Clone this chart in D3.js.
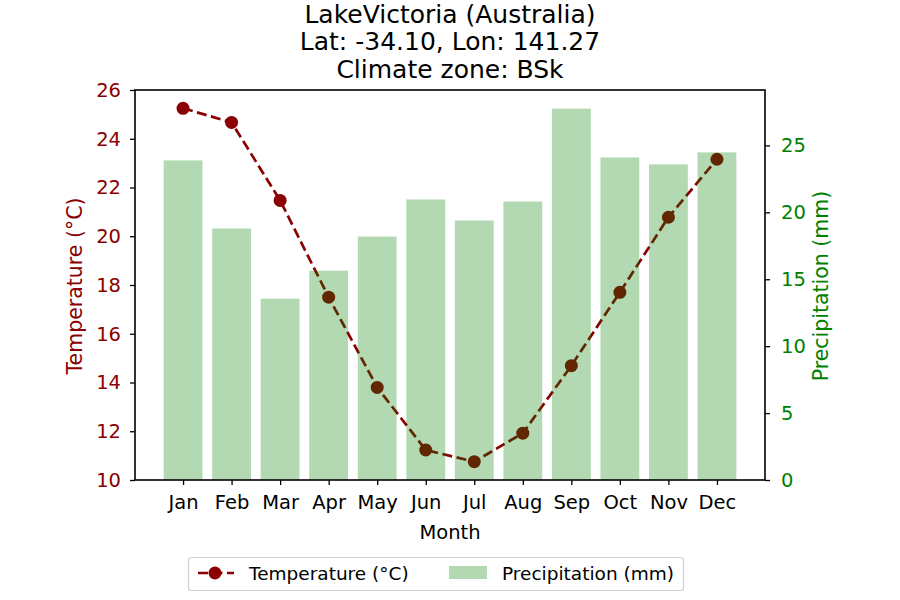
<!DOCTYPE html>
<html>
<head>
<meta charset="utf-8">
<script src="https://cdn.jsdelivr.net/npm/d3@7"></script>
<style>
  html, body { margin: 0; padding: 0; background: #fff; }
  svg text { font-family: "DejaVu Sans", sans-serif; }
</style>
</head>
<body>
<svg id="chart" width="900" height="600"></svg>
<script>
const months = ["Jan","Feb","Mar","Apr","May","Jun","Jul","Aug","Sep","Oct","Nov","Dec"];
const temperature = [25.25, 24.67, 21.47, 17.5, 13.8, 11.23, 10.75, 11.92, 14.69, 17.7, 20.78, 23.16];
const precipitation = [23.88, 18.79, 13.55, 15.64, 18.19, 20.96, 19.39, 20.81, 27.75, 24.10, 23.58, 24.48];
const tempTicks = [10, 12, 14, 16, 18, 20, 22, 24, 26];
const precipTicks = [0, 5, 10, 15, 20, 25];
const titleLines = ["LakeVictoria (Australia)", "Lat: -34.10, Lon: 141.27", "Climate zone: BSk"];

const svg = d3.select("#chart");
const m = {left: 135, right: 765, top: 90, bottom: 480};
const tempColor = "#8b0000", precipColor = "#008000";

const x = d3.scaleLinear().domain([-0.99, 11.99]).range([m.left, m.right]);
const band = x(0.4) - x(-0.4);
const yT = d3.scaleLinear().domain([10, 26]).range([m.bottom, m.top]);
const yP = d3.scaleLinear().domain([0, 29.14]).range([m.bottom, m.top]);

// temperature line (drawn first, bars overlay it)
const line = d3.line().x((d, i) => x(i)).y(d => yT(d));
svg.append("path").datum(temperature)
  .attr("d", line).attr("fill", "none").attr("stroke", tempColor)
  .attr("stroke-width", 2.7).attr("stroke-dasharray", "10,4.5");
svg.append("g").selectAll("circle").data(temperature).join("circle")
  .attr("cx", (d, i) => x(i)).attr("cy", d => yT(d)).attr("r", 6.5)
  .attr("fill", tempColor);

// precipitation bars
svg.append("g").selectAll("rect").data(precipitation).join("rect")
  .attr("x", (d, i) => x(i) - band / 2).attr("width", band)
  .attr("y", d => yP(d)).attr("height", d => yP(0) - yP(d))
  .attr("fill", precipColor).attr("fill-opacity", 0.3);

// axes
const fs = 19.5;
const axL = svg.append("g").attr("transform", `translate(${m.left},0)`)
  .call(d3.axisLeft(yT).tickValues(tempTicks).tickSize(5).tickPadding(9).tickFormat(d3.format("d")));
const axR = svg.append("g").attr("transform", `translate(${m.right},0)`)
  .call(d3.axisRight(yP).tickValues(precipTicks).tickSize(5).tickPadding(11).tickFormat(d3.format("d")));
const axB = svg.append("g").attr("transform", `translate(0,${m.bottom})`)
  .call(d3.axisBottom(x).tickValues(d3.range(12)).tickSize(5).tickPadding(10).tickFormat(i => months[i]));
[axL, axR, axB].forEach(a => {
  a.select(".domain").remove();
  a.selectAll("line").attr("stroke", "#000").attr("stroke-width", 1.3);
  a.selectAll("text").style("font-size", fs + "px").attr("font-family", "DejaVu Sans");
});
axL.selectAll("text").attr("fill", tempColor);
axR.selectAll("text").attr("fill", precipColor);
axB.selectAll("text").attr("fill", "#000");

// frame
svg.append("rect").attr("x", m.left).attr("y", m.top)
  .attr("width", m.right - m.left).attr("height", m.bottom - m.top)
  .attr("fill", "none").attr("stroke", "#000").attr("stroke-width", 1.6);

// axis labels
svg.append("text").attr("transform", "translate(75,286) rotate(-90)")
  .attr("text-anchor", "middle").attr("dominant-baseline", "central")
  .attr("fill", tempColor).style("font-size", "20.5px").text("Temperature (°C)");
svg.append("text").attr("transform", "translate(821,286) rotate(-90)")
  .attr("text-anchor", "middle").attr("dominant-baseline", "central")
  .attr("fill", precipColor).style("font-size", "20.5px").text("Precipitation (mm)");
svg.append("text").attr("x", 450).attr("y", 532)
  .attr("text-anchor", "middle").attr("dominant-baseline", "central")
  .attr("fill", "#000").style("font-size", fs + "px").text("Month");

// title
svg.append("g").selectAll("text").data(titleLines).join("text")
  .attr("x", 450).attr("y", (d, i) => 14 + i * 27.5)
  .attr("text-anchor", "middle").attr("dominant-baseline", "central")
  .attr("fill", "#000").style("font-size", "25px").text(d => d);

// legend
const lg = svg.append("g");
lg.append("rect").attr("x", 188.5).attr("y", 557.5).attr("width", 495).attr("height", 33)
  .attr("rx", 3).attr("fill", "#fff").attr("stroke", "#d0d0d0").attr("stroke-width", 1.2);
lg.append("line").attr("x1", 197).attr("x2", 234).attr("y1", 573).attr("y2", 573)
  .attr("stroke", tempColor).attr("stroke-width", 2.7).attr("stroke-dasharray", "10,4.5")
  .attr("stroke-dashoffset", -1);
lg.append("circle").attr("cx", 215).attr("cy", 573).attr("r", 6.5).attr("fill", tempColor);
lg.append("text").attr("x", 249).attr("y", 573).attr("dominant-baseline", "central")
  .attr("fill", "#000").style("font-size", "18.5px").text("Temperature (°C)");
lg.append("rect").attr("x", 449).attr("y", 566).attr("width", 38).attr("height", 13)
  .attr("fill", precipColor).attr("fill-opacity", 0.3);
lg.append("text").attr("x", 502).attr("y", 573).attr("dominant-baseline", "central")
  .attr("fill", "#000").style("font-size", "18.5px").text("Precipitation (mm)");
</script>
</body>
</html>
